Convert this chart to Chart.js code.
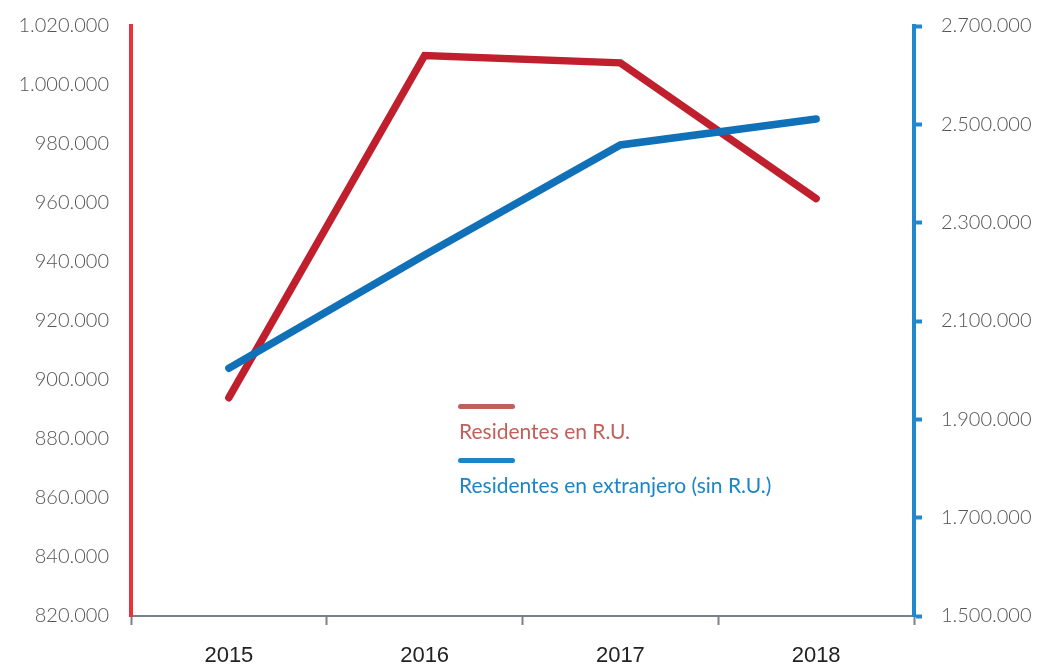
<!DOCTYPE html>
<html>
<head>
<meta charset="utf-8">
<script src="https://cdn.jsdelivr.net/npm/chart.js@4.4.1/dist/chart.umd.min.js"></script>
<style>
html,body{margin:0;padding:0;background:#fff;}
#wrap{position:relative;width:1041px;height:668px;}
canvas{display:block;}
.leg{position:absolute;left:459px;font-family:Lato,"Open Sans",sans-serif;font-size:21px;}
.legline{position:absolute;left:458px;width:57px;height:5px;border-radius:3px;}
</style>
</head>
<body>
<div id="wrap">
<canvas id="c" width="1041" height="668"></canvas>
<div class="legline" style="top:404px;background:#c0605a"></div>
<div class="leg" style="top:418px;color:#c0605a">Residentes en R.U.</div>
<div class="legline" style="top:458px;background:#1a85c8"></div>
<div class="leg" style="top:472px;color:#1a85c8">Residentes en extranjero (sin R.U.)</div>
</div>
<script>
const categories = ["2015", "2016", "2017", "2018"];
const residentesRU = [894000, 1010000, 1007500, 961500];
const residentesExtranjero = [2004000, 2234000, 2458000, 2511000];
const seriesNames = ["Residentes en R.U.", "Residentes en extranjero (sin R.U.)"];

const fmt = v => Math.round(v).toString().replace(/\B(?=(\d{3})+(?!\d))/g, ".");

new Chart(document.getElementById('c'), {
  type: 'line',
  data: {
    labels: categories,
    datasets: [
      {label: seriesNames[0], data: residentesRU, yAxisID: 'yL', borderColor: '#c01f2e', borderWidth: 7.5,
       borderCapStyle: 'round', borderJoinStyle: 'miter', pointRadius: 0, tension: 0, order: 2},
      {label: seriesNames[1], data: residentesExtranjero, yAxisID: 'yR', borderColor: '#1071b9', borderWidth: 7.5,
       borderCapStyle: 'round', borderJoinStyle: 'miter', pointRadius: 0, tension: 0, order: 1}
    ]
  },
  options: {
    responsive: false,
    animation: false,
    devicePixelRatio: 1,
    layout: {padding: {top: 26, bottom: 0, left: 0, right: 0}},
    plugins: {legend: {display: false}, tooltip: {enabled: false}},
    scales: {
      x: {
        offset: true,
        grid: {drawOnChartArea: false, offset: true, tickLength: 9, color: '#7a8088', tickWidth: 2},
        border: {color: '#7a8088', width: 2},
        ticks: {color: '#222', font: {family: 'Liberation Sans, Arial, sans-serif', size: 22}, padding: 18},
        afterFit: s => { s.height = 52; }
      },
      yL: {
        position: 'left',
        min: 820000, max: 1020000,
        grid: {display: true, drawOnChartArea: false, drawTicks: false},
        border: {color: '#e8323c', width: 4},
        ticks: {stepSize: 20000, color: '#555', font: {family: 'Lato, sans-serif', size: 20, weight: 300}, padding: 22,
                callback: v => fmt(v)},
        afterFit: s => { s.width = 131; s.paddingTop = 0; s.paddingBottom = 0; }
      },
      yR: {
        position: 'right',
        min: 1500000, max: 2700000,
        grid: {drawOnChartArea: false, tickLength: 8, color: '#2288cc', tickWidth: 4},
        border: {color: '#2288cc', width: 4},
        ticks: {stepSize: 200000, color: '#555', font: {family: 'Lato, sans-serif', size: 20, weight: 300}, padding: 19,
                callback: v => fmt(v)},
        afterFit: s => { s.width = 127; s.paddingTop = 0; s.paddingBottom = 0; }
      }
    }
  }
});
</script>
</body>
</html>
